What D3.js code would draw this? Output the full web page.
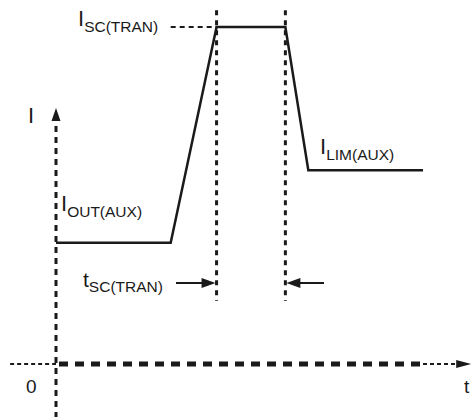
<!DOCTYPE html>
<html>
<head>
<meta charset="utf-8">
<script src="https://cdn.jsdelivr.net/npm/d3@7"></script>
<style>
  body { margin: 0; background: #fff; }
  text { font-family: "Liberation Sans", Arial, sans-serif; fill: #1a1a1a; }
</style>
</head>
<body>
<div id="chart"></div>
<script>
// waveform (t, I) in arbitrary units
var waveT = [0, 2.5, 3.5, 5, 5.5, 8];
var waveI = [3.6, 3.6, 10, 10, 5.75, 5.75];

// reference levels / markers
var markerT = [3.5, 5];          // dotted verticals at the edges of the SC pulse
var markerRange = [10.5, 1.87];  // top and bottom of those verticals
var iscLineT = [2.5, 3.5];       // short dashed guide to I_SC(TRAN)
var iscLevel = 10;

var xAxisRange = [-1, 9.05];
var yAxisRange = [-1.6, 7.6];

var width = 472, height = 417;

var svg = d3.select("#chart").append("svg")
    .attr("width", width)
    .attr("height", height);

// 1 unit of t ~ 45.9px, 1 unit of I ~ 33.7px
var xScale = d3.scaleLinear().domain([0, 8]).range([56, 423]);
var yScale = d3.scaleLinear().domain([0, 10]).range([364, 27]);

var ink = "#1a1a1a";

// y axis (dashed) + arrowhead
svg.append("line")
    .attr("x1", xScale(0)).attr("x2", xScale(0))
    .attr("y1", yScale(yAxisRange[0])).attr("y2", yScale(yAxisRange[1]) + 10)
    .attr("stroke", ink).attr("stroke-width", 3)
    .attr("stroke-dasharray", "6,5");
var yTip = yScale(yAxisRange[1]);
svg.append("path")
    .attr("d", `M${xScale(0)},${yTip} l-4.5,13 l9,0 z`)
    .attr("fill", ink);

// x axis: thin dashes outside, thick dashes along the waveform span
var x0 = yScale(0);
svg.append("line")
    .attr("x1", xScale(xAxisRange[0])).attr("x2", xScale(0))
    .attr("y1", x0).attr("y2", x0)
    .attr("stroke", ink).attr("stroke-width", 2)
    .attr("stroke-dasharray", "4,3");
svg.append("line")
    .attr("x1", xScale(0) + 3).attr("x2", xScale(8))
    .attr("y1", x0).attr("y2", x0)
    .attr("stroke", ink).attr("stroke-width", 5)
    .attr("stroke-dasharray", "9,7");
svg.append("line")
    .attr("x1", xScale(8)).attr("x2", xScale(xAxisRange[1]) - 12)
    .attr("y1", x0).attr("y2", x0)
    .attr("stroke", ink).attr("stroke-width", 2)
    .attr("stroke-dasharray", "4,3");
var xTip = xScale(xAxisRange[1]);
svg.append("path")
    .attr("d", `M${xTip},${x0} l-15,-4 l0,8 z`)
    .attr("fill", ink);

// dotted vertical markers
svg.selectAll(".marker")
    .data(markerT)
    .enter()
    .append("line")
    .attr("class", "marker")
    .attr("x1", d => xScale(d)).attr("x2", d => xScale(d))
    .attr("y1", yScale(markerRange[0])).attr("y2", yScale(markerRange[1]))
    .attr("stroke", ink).attr("stroke-width", 3)
    .attr("stroke-dasharray", "5,5");

// dashed guide to I_SC level
svg.append("line")
    .attr("x1", xScale(iscLineT[0])).attr("x2", xScale(iscLineT[1]))
    .attr("y1", yScale(iscLevel)).attr("y2", yScale(iscLevel))
    .attr("stroke", ink).attr("stroke-width", 2)
    .attr("stroke-dasharray", "5,4");

// the waveform
var line = d3.line()
    .x(d => xScale(d[0]))
    .y(d => yScale(d[1]));
svg.append("path")
    .datum(d3.zip(waveT, waveI))
    .attr("d", line)
    .attr("fill", "none")
    .attr("stroke", ink)
    .attr("stroke-width", 2.5)
    .attr("stroke-linejoin", "miter");

// t_SC(TRAN) arrows
var arrowY = 283;
var lx = xScale(markerT[0]), rx = xScale(markerT[1]);
svg.append("line")
    .attr("x1", 176).attr("x2", lx - 10)
    .attr("y1", arrowY).attr("y2", arrowY)
    .attr("stroke", ink).attr("stroke-width", 2);
svg.append("path")
    .attr("d", `M${lx - 1},${arrowY} l-14,-5 l0,10 z`)
    .attr("fill", ink);
svg.append("line")
    .attr("x1", 324).attr("x2", rx + 10)
    .attr("y1", arrowY).attr("y2", arrowY)
    .attr("stroke", ink).attr("stroke-width", 2);
svg.append("path")
    .attr("d", `M${rx + 1},${arrowY} l14,-5 l0,10 z`)
    .attr("fill", ink);

// labels with subscripts
function label(x, y, main, sub, size, subSize, dy) {
    var t = svg.append("text")
        .attr("x", x).attr("y", y)
        .attr("font-size", size);
    t.append("tspan").text(main);
    if (sub) {
        t.append("tspan")
            .attr("font-size", subSize)
            .attr("dy", dy)
            .text(sub);
    }
}

label(78, 26, "I", "SC(TRAN)", 22, 15.5, 6);
label(28, 123, "I", null, 22);
label(61, 211, "I", "OUT(AUX)", 22, 15.5, 6);
label(320, 154, "I", "LIM(AUX)", 22, 15.5, 6);
label(83, 287, "t", "SC(TRAN)", 21, 15.5, 5);
label(26, 393, "0", null, 19);
label(464, 393, "t", null, 19);
</script>
</body>
</html>
